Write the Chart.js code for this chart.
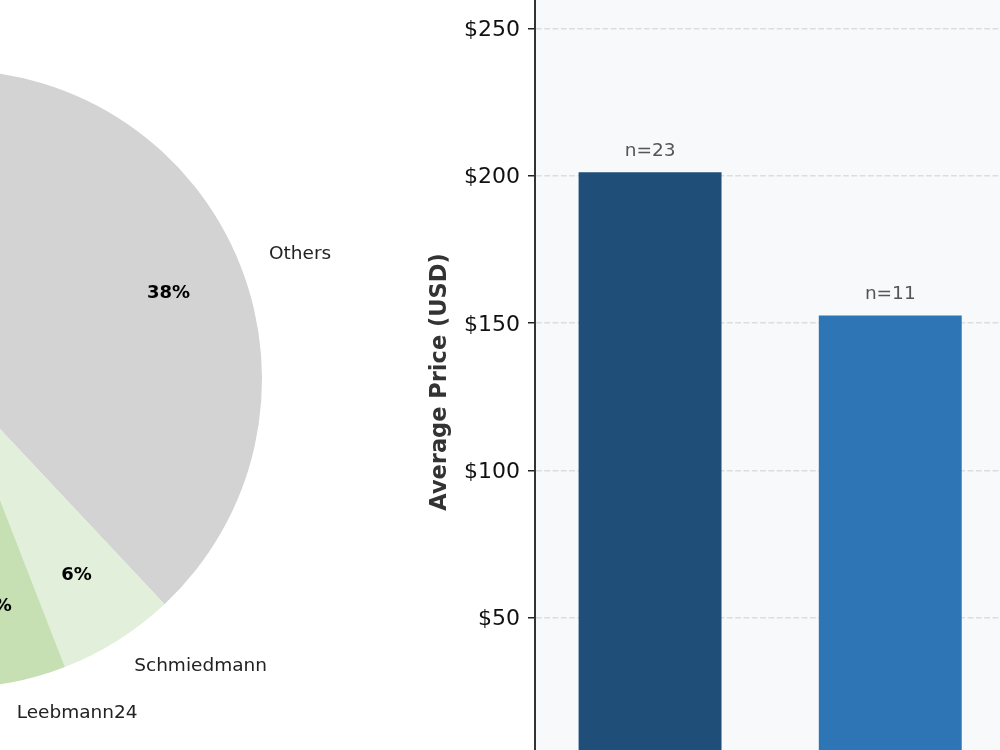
<!DOCTYPE html>
<html>
<head>
<meta charset="utf-8">
<script src="https://cdn.jsdelivr.net/npm/chart.js@4"></script>
<style>
  html, body { margin: 0; padding: 0; background: #fff; }
  body { width: 1000px; height: 750px; overflow: hidden; position: relative; }
  #pieWrap { position: absolute; left: -497px; top: -71px; width: 900px; height: 900px; }
  #barWrap { position: absolute; left: 423px; top: -1px; width: 1063px; height: 800px; }
</style>
</head>
<body>
<div id="pieWrap"><canvas id="pieChart"></canvas></div>
<div id="barWrap"><canvas id="barChart"></canvas></div>
<script>
// pie: share of listings by seller (only the right part is in view)
const sellers = ['Others', 'Schmiedmann', 'Leebmann24', ''];
const sellerShare = [38, 6.1, 5.8, 50.1];
const sellerColors = ['#d3d3d3', '#e2efda', '#c6e0b4', '#a9d08e'];

// bars: average price per group
const groups = ['Group 1', 'Group 2'];
const avgPrice = [201.2, 152.6];
const counts = [23, 11];
const barColors = ['#1f4e79', '#2e75b6'];
const priceTicks = [50, 100, 150, 200, 250];

Chart.defaults.font.family = "'DejaVu Sans', sans-serif";
Chart.defaults.animation = false;

// matplotlib-like pie labels: name outside, percent inside
const pieLabels = {
  id: 'pieLabels',
  afterDatasetsDraw(chart) {
    const ctx = chart.ctx;
    const meta = chart.getDatasetMeta(0);
    const total = sellerShare.reduce((a, b) => a + b, 0);
    meta.data.forEach((arc, i) => {
      const a = (arc.startAngle + arc.endAngle) / 2;
      const r = arc.outerRadius;
      ctx.save();
      ctx.textBaseline = 'middle';
      ctx.fillStyle = '#222';
      ctx.font = "18.5px 'DejaVu Sans'";
      ctx.textAlign = Math.cos(a) >= 0 ? 'left' : 'right';
      ctx.fillText(sellers[i], arc.x + 1.1 * r * Math.cos(a), arc.y + 1.1 * r * Math.sin(a));
      ctx.fillStyle = '#000';
      ctx.font = "bold 18px 'DejaVu Sans'";
      ctx.textAlign = 'center';
      const pct = Math.round(sellerShare[i] / total * 100) + '%';
      ctx.fillText(pct, arc.x + 0.75 * r * Math.cos(a), arc.y + 0.75 * r * Math.sin(a));
      ctx.restore();
    });
  }
};

new Chart(document.getElementById('pieChart'), {
  type: 'pie',
  data: {
    labels: sellers,
    datasets: [{
      data: sellerShare,
      backgroundColor: sellerColors,
      borderWidth: 0,
      hoverOffset: 0
    }]
  },
  options: {
    responsive: true,
    maintainAspectRatio: false,
    radius: 309,
    layout: { padding: 0 },
    plugins: { legend: { display: false }, tooltip: { enabled: false } }
  },
  plugins: [pieLabels]
});

// plot background + n= labels
const barExtras = {
  id: 'barExtras',
  beforeDraw(chart) {
    const a = chart.chartArea;
    const ctx = chart.ctx;
    ctx.save();
    ctx.fillStyle = '#f8f9fb';
    ctx.fillRect(a.left, a.top, a.right - a.left, a.bottom - a.top);
    ctx.restore();
  },
  afterDraw(chart) {
    const ctx = chart.ctx;
    const meta = chart.getDatasetMeta(0);
    ctx.save();
    ctx.fillStyle = '#555';
    ctx.font = "18.5px 'DejaVu Sans'";
    ctx.textAlign = 'center';
    ctx.textBaseline = 'alphabetic';
    meta.data.forEach((bar, i) => {
      ctx.fillText('n=' + counts[i], bar.x, bar.y - 16);
    });
    ctx.restore();
  }
};

new Chart(document.getElementById('barChart'), {
  type: 'bar',
  data: {
    datasets: [{
      label: 'Average Price (USD)',
      data: groups.map((g, i) => ({ x: i, y: avgPrice[i] })),
      backgroundColor: barColors,
      borderWidth: 0,
      barPercentage: 0.595,
      categoryPercentage: 1
    }]
  },
  options: {
    responsive: true,
    maintainAspectRatio: false,
    layout: { padding: 0 },
    plugins: { legend: { display: false }, tooltip: { enabled: false } },
    scales: {
      x: {
        type: 'linear',
        min: -0.479,
        max: 3.48,
        offset: false,
        afterBuildTicks: (axis) => {
          axis.ticks = [0, 1, 2, 3].map(v => ({ value: v }));
        },
        ticks: { display: false },
        grid: { display: false, offset: false },
        border: { display: false },
        afterFit: (axis) => {
          axis.height = 34;
          axis.paddingLeft = 0;
          axis.paddingRight = 0;
        }
      },
      y: {
        min: 0,
        max: 260,
        z: 1,
        afterBuildTicks: (axis) => {
          axis.ticks = priceTicks.map(v => ({ value: v }));
        },
        afterFit: (axis) => {
          axis.width = 112;
          axis.paddingTop = 0;
          axis.paddingBottom = 0;
        },
        ticks: {
          padding: 8,
          labelOffset: 2,
          color: '#111',
          font: { size: 22 },
          callback: (v) => '$' + v
        },
        grid: {
          color: 'rgba(170,170,170,0.35)',
          lineWidth: 1.5,
          tickLength: 7,
          tickColor: '#222',
          tickWidth: 1.5,
          tickBorderDash: []
        },
        border: {
          display: true,
          color: '#333',
          width: 2,
          dash: [5.8, 2.5]
        },
        title: {
          display: true,
          text: 'Average Price (USD)',
          color: '#333',
          font: { size: 22.5, weight: 'bold' },
          padding: { top: 4, bottom: 4 }
        }
      }
    }
  },
  plugins: [barExtras]
});
</script>
</body>
</html>
